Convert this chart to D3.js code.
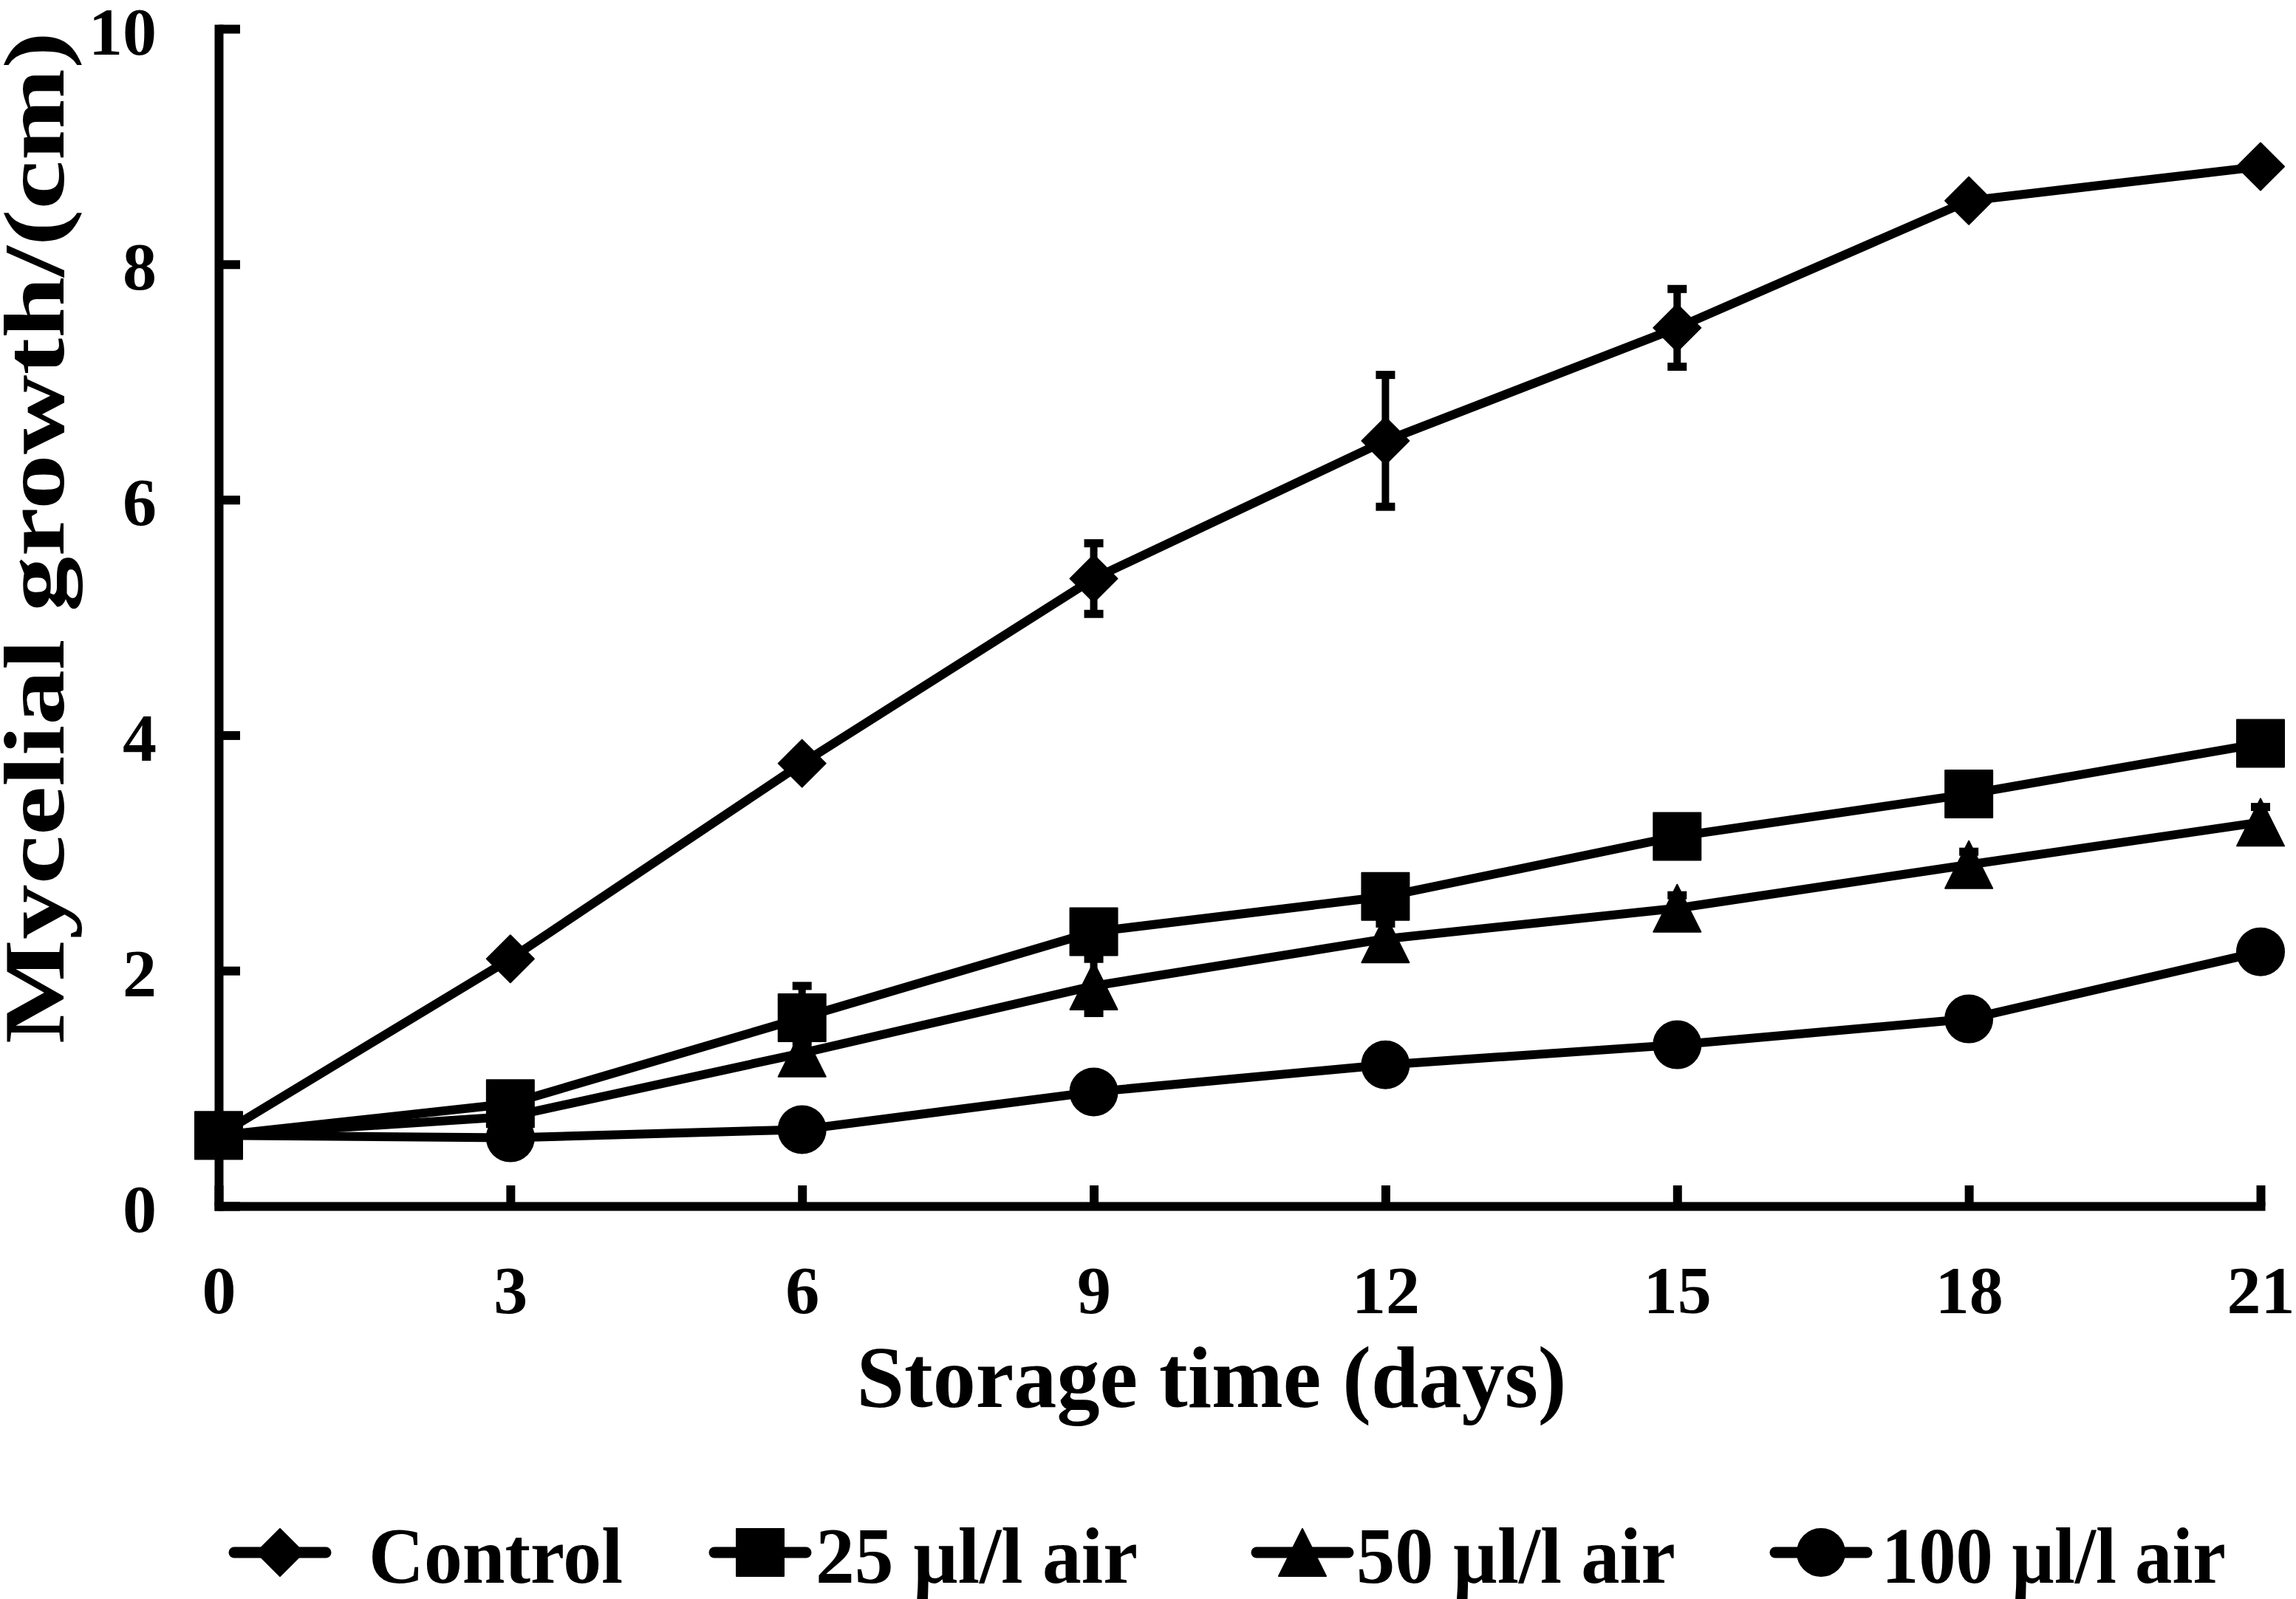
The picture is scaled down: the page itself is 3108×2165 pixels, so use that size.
<!DOCTYPE html>
<html>
<head>
<meta charset="utf-8">
<script src="https://cdn.jsdelivr.net/npm/d3@7"></script>
<style>
  body { margin: 0; background: #fff; }
  text { font-family: "Liberation Serif", "Times New Roman", serif; font-weight: bold; fill: #000; }
</style>
</head>
<body>
<svg id="svg"></svg>
<script>
var width = 3108, height = 2165;

// data
var days = [0, 3, 6, 9, 12, 15, 18, 21];
var yTicks = [0, 2, 4, 6, 8, 10];
var seriesNames = ["Control", "25 µl/l air", "50 µl/l air", "100 µl/l air"];
var control = [0.60, 2.10, 3.76, 5.33, 6.50, 7.46, 8.54, 8.83];
var controlErr = [0.00, 0.05, 0.08, 0.30, 0.56, 0.33, 0.08, 0.06];
var ul25 = [0.60, 0.87, 1.60, 2.33, 2.63, 3.14, 3.50, 3.93];
var ul25Err = [0.00, 0.05, 0.27, 0.10, 0.10, 0.10, 0.10, 0.10];
var ul50 = [0.60, 0.76, 1.30, 1.87, 2.27, 2.53, 2.90, 3.26];
var ul50Err = [0.00, 0.05, 0.10, 0.23, 0.13, 0.11, 0.11, 0.13];
var ul100 = [0.60, 0.58, 0.65, 0.97, 1.20, 1.37, 1.59, 2.16];
var ul100Err = [0.00, 0.05, 0.05, 0.05, 0.05, 0.05, 0.05, 0.05];
var markerTypes = ["diamond", "square", "triangle", "circle"];

var svg = d3.select("#svg")
	.attr("width", width)
	.attr("height", height);

var x = d3.scaleLinear()
	.domain([0, 21])
	.range([296, 3060]);

var y = d3.scaleLinear()
	.domain([0, 10])
	.range([1633, 39]);

// marker shapes, centred on 0,0
function markerPath(type)
{
	var s = 32;
	if (type == "diamond") return "M0," + (-s) + "L" + s + ",0L0," + s + "L" + (-s) + ",0Z";
	if (type == "square") return "M" + (-s) + "," + (-s) + "H" + s + "V" + s + "H" + (-s) + "Z";
	if (type == "triangle") return "M0," + (-s) + "L" + s + "," + s + "H" + (-s) + "Z";
	var p = d3.path();
	p.arc(0, 0, s, 0, 2 * Math.PI);
	return p.toString();
}

var series = [
	{ name: seriesNames[0], values: control, err: controlErr, marker: markerTypes[0] },
	{ name: seriesNames[1], values: ul25, err: ul25Err, marker: markerTypes[1] },
	{ name: seriesNames[2], values: ul50, err: ul50Err, marker: markerTypes[2] },
	{ name: seriesNames[3], values: ul100, err: ul100Err, marker: markerTypes[3] }
];

// axes
var yAxis = d3.axisLeft(y)
	.tickValues(yTicks)
	.tickFormat(d3.format("d"))
	.tickSizeInner(-29)
	.tickSizeOuter(0)
	.tickPadding(84);

var xAxis = d3.axisBottom(x)
	.tickValues(days)
	.tickFormat(d3.format("d"))
	.tickSizeInner(-28)
	.tickSizeOuter(0)
	.tickPadding(80);

var gy = svg.append("g")
	.attr("transform", "translate(296,0)")
	.call(yAxis);
var gx = svg.append("g")
	.attr("transform", "translate(0,1633)")
	.call(xAxis);

[gx, gy].forEach(function(g)
{
	g.select(".domain").attr("stroke", "#000").attr("stroke-width", 12).attr("stroke-linecap", "square");
	g.selectAll(".tick line").attr("stroke", "#000").attr("stroke-width", 12);
	g.selectAll(".tick text")
		.attr("font-family", "Liberation Serif, Times New Roman, serif")
		.attr("font-weight", "bold")
		.attr("font-size", 92)
		.attr("fill", "#000");
});
gy.selectAll(".tick text").attr("dy", "0.37em");

// lines, error bars, markers
var lineGenerator = d3.line()
	.x(function(d, i) { return x(days[i]); })
	.y(function(d) { return y(d); });

series.forEach(function(s)
{
	svg.append("path")
		.attr("fill", "none")
		.attr("stroke", "#000")
		.attr("stroke-width", 12)
		.attr("stroke-linejoin", "round")
		.attr("d", lineGenerator(s.values));

	var eb = svg.append("g");
	for (var j = 0; j < days.length; j++)
	{
		if (s.err[j] <= 0) continue;
		var cx = x(days[j]);
		var yHi = y(s.values[j] + s.err[j]);
		var yLo = y(s.values[j] - s.err[j]);
		eb.append("line")
			.attr("x1", cx).attr("x2", cx)
			.attr("y1", yHi).attr("y2", yLo)
			.attr("stroke", "#000").attr("stroke-width", 10);
		[yHi, yLo].forEach(function(v)
		{
			eb.append("line")
				.attr("x1", cx - 13).attr("x2", cx + 13)
				.attr("y1", v).attr("y2", v)
				.attr("stroke", "#000").attr("stroke-width", 11);
		});
	}

	svg.append("g")
		.selectAll("path")
		.data(s.values)
		.enter()
		.append("path")
		.attr("d", markerPath(s.marker))
		.attr("transform", function(d, k) { return "translate(" + x(days[k]) + "," + y(d) + ")"; })
		.attr("fill", "#000")
		.attr("stroke", "#000")
		.attr("stroke-width", 2)
		.attr("stroke-linejoin", "round");
});

// axis titles
svg.append("text")
	.attr("x", 1640)
	.attr("y", 1905)
	.attr("text-anchor", "middle")
	.attr("font-size", 118)
	.attr("textLength", 961)
	.attr("lengthAdjust", "spacingAndGlyphs")
	.text("Storage time (days)");

svg.append("text")
	.attr("transform", "translate(86,728) rotate(-90)")
	.attr("text-anchor", "middle")
	.attr("font-size", 116)
	.attr("textLength", 1370)
	.attr("lengthAdjust", "spacingAndGlyphs")
	.text("Mycelial growth/(cm)");

// legend
var legendLineX = [317, 967, 1701, 2403];
var legendTextX = [499, 1104, 1836, 2547];
var legendTextW = [344, 436, 432, 466];

var legend = svg.append("g").attr("class", "legend");

series.forEach(function(s, i)
{
	var lx = legendLineX[i];
	legend.append("line")
		.attr("x1", lx).attr("x2", lx + 124)
		.attr("y1", 2102).attr("y2", 2102)
		.attr("stroke", "#000")
		.attr("stroke-width", 15)
		.attr("stroke-linecap", "round");
	legend.append("path")
		.attr("d", markerPath(s.marker))
		.attr("transform", "translate(" + (lx + 62) + ",2102)")
		.attr("fill", "#000")
		.attr("stroke", "#000")
		.attr("stroke-width", 2)
		.attr("stroke-linejoin", "round");
	legend.append("text")
		.attr("x", legendTextX[i])
		.attr("y", 2143)
		.attr("font-size", 108)
		.attr("textLength", legendTextW[i])
		.attr("lengthAdjust", "spacingAndGlyphs")
		.text(s.name);
});
</script>
</body>
</html>
